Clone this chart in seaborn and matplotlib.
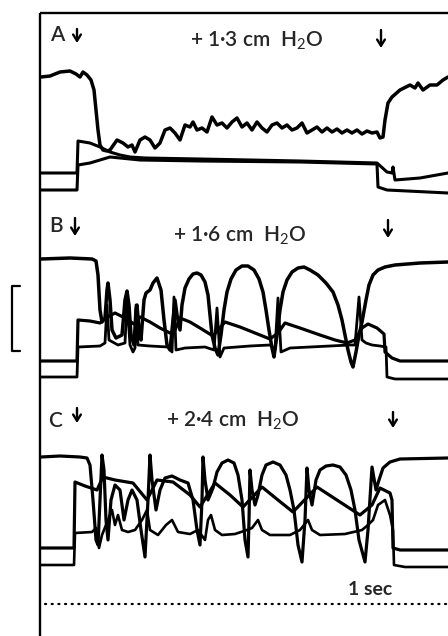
import matplotlib
matplotlib.use("Agg")
import matplotlib.pyplot as plt
import seaborn as sns
import pandas as pd

# ---------------- data (time axis and signal) ----------------
# Panel A
a_top_x = [41,50,60,70,76,80,83,87,91,94,96,98,100,103,107,110,117,123,128,132,135,140,145,150,155,160,165,170,175,180,185,190,193,197,202,207,212,217,222,227,232,237,242,247,252,257,262,267,272,277,282,287,292,297,302,307,312,317,322,327,332,337,342,347,352,357,362,367,372,377,380,383,385,388,392,400,410,415,418,423,430,437,443,448]
a_top_y = [77,76,72,71,74,77,72,75,80,90,110,130,145,150,151,150,140,143,147,145,152,140,137,140,148,143,130,128,133,140,125,127,122,130,128,132,117,125,123,128,122,118,127,123,130,122,128,132,125,123,128,125,130,128,123,133,130,127,132,128,132,129,133,130,133,130,134,131,133,132,138,137,120,103,97,90,85,88,83,90,85,85,80,77]
a_mid_x = [41,77,78,90,100,110,120,130,145,200,300,377,387,392,393,395,420,448]
a_mid_y = [173,173,141,143,147,152,155,157,158,159,161,163,172,173,167,180,178,173]
a_low_x = [41,77,78,90,100,110,120,140,200,300,377,378,387,448]
a_low_y = [190,190,165,163,160,157,158,160,161,162,164,187,190,193]

# Panel B
b_top_x = [41,70,92,96,98,100,102,105,107,108,110,112,116,122,125,127,129,131,134,136,137,139,141,144,146,150,153,157,161,164,167,170,173,175,177,180,182,185,189,193,197,201,205,208,210,212,215,218,221,224,227,231,236,242,248,254,259,263,266,269,272,274,277,280,283,287,292,298,304,310,318,326,333,338,342,345,348,351,353,356,359,362,366,369,373,378,385,395,420,448]
b_top_y = [259,258,259,261,275,310,322,318,290,283,300,330,338,335,300,291,305,335,345,310,305,330,340,300,293,290,283,278,290,320,345,350,320,300,315,330,305,288,279,274,273,275,282,295,315,335,348,355,335,310,292,279,270,266,266,270,279,292,310,330,348,357,335,310,292,280,272,268,267,270,275,283,292,305,320,335,350,362,367,352,335,322,300,285,275,270,267,265,263,262]
b_mid_x = [41,77,78,90,100,106,115,125,134,140,150,160,170,175,180,190,200,213,218,225,240,255,270,278,285,300,320,335,347,355,362,368,377,384,385,392,400,448]
b_mid_y = [361,361,320,321,323,318,313,318,324,317,322,328,333,330,318,322,328,336,330,322,327,333,339,333,323,328,335,340,343,340,328,324,328,334,352,358,361,361]
b_low_x = [41,77,78,100,105,107,109,118,125,127,130,133,135,136,138,150,168,172,174,176,185,205,214,217,220,224,250,270,275,278,281,290,330,350,355,359,362,366,372,380,386,387,395,448]
b_low_y = [377,377,347,346,343,305,340,345,343,300,345,352,348,305,345,346,347,352,297,350,348,347,350,308,357,348,346,345,350,298,352,348,346,345,345,297,340,343,345,346,347,377,379,379]

# Panel C
c_top_x = [41,60,80,87,90,93,96,98,100,102,104,106,108,111,115,120,124,128,132,137,141,145,148,150,152,156,160,165,172,180,188,193,197,200,202,203,205,208,213,217,222,228,234,238,242,245,248,249,250,252,255,258,262,266,273,280,286,290,294,298,302,305,307,309,312,316,320,326,333,340,346,351,355,359,365,368,372,376,379,383,390,400,448]
c_top_y = [457,456,457,458,465,500,540,545,500,455,470,520,540,500,485,490,520,500,490,500,530,557,500,455,480,510,490,478,476,480,483,500,530,545,500,457,480,500,488,472,463,460,463,475,500,540,557,520,470,490,505,495,475,465,462,465,475,490,510,545,562,520,468,490,505,480,470,466,465,467,475,490,510,540,562,530,467,490,480,468,462,459,458]
c_mid_x = [41,74,75,85,97,103,115,133,147,157,173,190,200,215,230,243,262,278,293,317,340,360,372,380,390,392,393,400,448]
c_mid_y = [548,548,482,486,490,477,480,483,500,480,482,495,507,483,495,507,487,500,512,487,502,515,505,488,493,500,548,550,550]
c_low_x = [41,74,75,92,96,99,102,108,112,115,118,122,128,135,142,147,150,158,166,172,178,190,198,205,208,211,215,222,235,247,252,258,262,270,290,300,308,312,320,345,362,368,373,378,385,390,393,394,405,448]
c_low_y = [565,565,533,532,528,548,535,520,510,525,515,530,532,530,520,510,530,535,525,520,532,534,530,540,520,515,530,535,534,530,528,520,530,535,535,530,520,530,535,534,530,525,520,505,500,515,530,565,567,567]

panel_labels = ["A", "B", "C"]
pressure_labels = ["+ 1·3 cm  H$_2$O", "+ 1·6 cm  H$_2$O", "+ 2·4 cm  H$_2$O"]
time_label = "1 sec"

# ---------------- drawing ----------------
sns.set_style("white")
plt.rcParams['font.family'] = ['Lato', 'DejaVu Sans']
plt.rcParams['mathtext.fontset'] = 'custom'
plt.rcParams['mathtext.rm'] = 'Lato'
plt.rcParams['mathtext.it'] = 'Lato'
plt.rcParams['mathtext.bf'] = 'Lato:bold'

fig = plt.figure(figsize=(4.48, 6.36), dpi=100)
ax = fig.add_axes([0, 0, 1, 1])

traces = [
    (a_top_x, a_top_y, 2.5), (a_mid_x, a_mid_y, 2.2), (a_low_x, a_low_y, 2.2),
    (b_top_x, b_top_y, 2.5), (b_mid_x, b_mid_y, 2.3), (b_low_x, b_low_y, 2.0),
    (c_top_x, c_top_y, 2.3), (c_mid_x, c_mid_y, 2.3), (c_low_x, c_low_y, 1.9),
]
for xs, ys, lw in traces:
    df = pd.DataFrame({"t": xs, "v": ys})
    sns.lineplot(data=df, x="t", y="v", sort=False, estimator=None, ax=ax,
                 color="black", lw=lw, solid_joinstyle="round", solid_capstyle="round")
ax.set_xlim(0, 448)
ax.set_ylim(636, 0)
ax.axis("off")

# frame
ax.plot([40, 40], [13, 636], color="black", lw=1.7, solid_capstyle="butt")
ax.plot([40, 448], [13, 13], color="black", lw=1.7, solid_capstyle="butt")

# calibration bracket
ax.plot([20, 12, 12, 20], [286, 286, 351, 351], color="black", lw=1.6)

# labels
label_x = [50, 49, 48]
label_base = [41, 232, 427]
text_x = [257, 240, 233]
text_base = [47, 242, 427]
for i in range(3):
    ax.text(label_x[i], label_base[i], panel_labels[i], fontsize=15, ha="left", va="baseline",
            fontweight="semibold")
    ax.text(text_x[i], text_base[i], pressure_labels[i], fontsize=15, ha="center", va="baseline",
            fontweight="semibold")

# stimulus arrows (start, end of the pressure step)
arrow_x = [77, 381, 75, 388, 77, 393]
arrow_top = [29, 30, 218, 220, 408, 412]
arrow_bot = [43, 48, 236, 238, 423, 428]
for x, yt, yb in zip(arrow_x, arrow_top, arrow_bot):
    ax.annotate("", xy=(x, yb), xytext=(x, yt),
                arrowprops=dict(arrowstyle="->,head_length=0.45,head_width=0.28",
                                lw=1.7, color="black", shrinkA=0, shrinkB=0))

ax.text(370, 595, time_label, fontsize=14, ha="center", va="baseline", fontweight="bold")
ax.plot([45, 448], [604, 604], color="black", lw=1.6, linestyle=(0, (0.5, 2.5)), dash_capstyle="round")

fig.savefig("out.png", dpi=100)
